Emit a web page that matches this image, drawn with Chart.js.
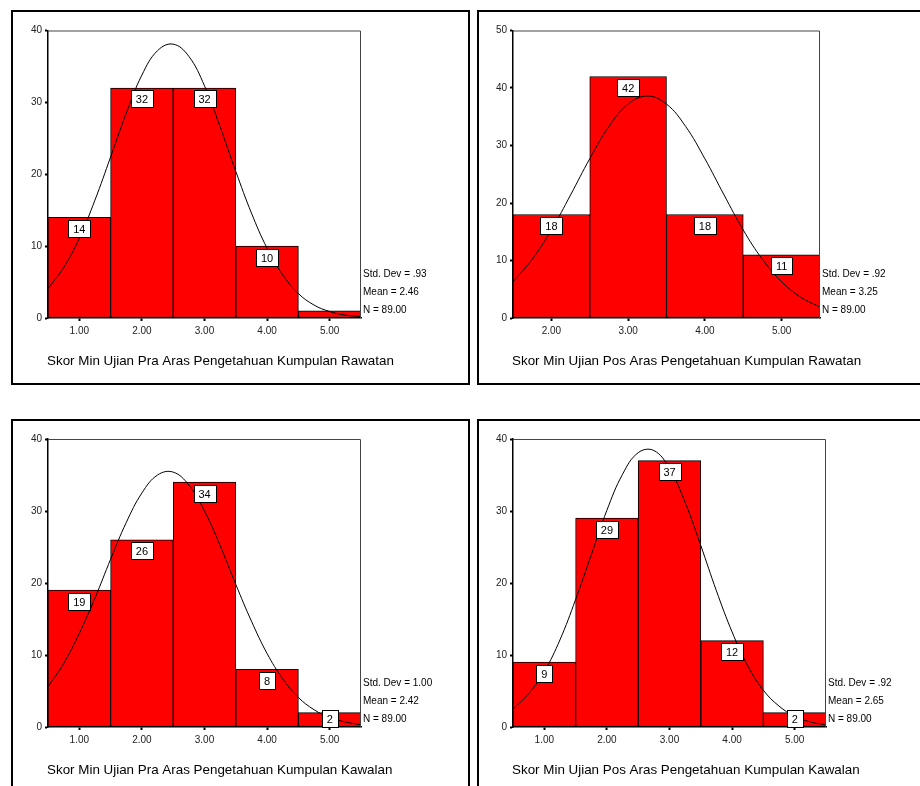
<!DOCTYPE html>
<html>
<head>
<meta charset="utf-8">
<script src="https://cdn.jsdelivr.net/npm/chart.js@4.4.0/dist/chart.umd.min.js"></script>
<style>
html, body { margin: 0; padding: 0; background: #fff; width: 920px; height: 786px; overflow: hidden; position: relative; }
.panel { position: absolute; border: 2px solid #000; box-sizing: border-box; pointer-events: none; }
canvas { position: absolute; }
</style>
</head>
<body>
<canvas id="c1" width="459" height="375" style="left:11px;top:10px"></canvas>
<canvas id="c2" width="459" height="375" style="left:477px;top:10px"></canvas>
<canvas id="c3" width="459" height="368" style="left:11px;top:418px"></canvas>
<canvas id="c4" width="459" height="368" style="left:477px;top:418px"></canvas>
<div class="panel" style="left:11px;top:10px;width:459px;height:375px"></div>
<div class="panel" style="left:477px;top:10px;width:459px;height:375px"></div>
<div class="panel" style="left:11px;top:419px;width:459px;height:400px"></div>
<div class="panel" style="left:477px;top:419px;width:459px;height:400px"></div>
<script>
// histogram bins (score) and frequencies
const bins1 = [1, 2, 3, 4, 5];
const counts1 = [14, 32, 32, 10, 1];
const bins2 = [2, 3, 4, 5];
const counts2 = [18, 42, 18, 11];
const bins3 = [1, 2, 3, 4, 5];
const counts3 = [19, 26, 34, 8, 2];
const bins4 = [1, 2, 3, 4, 5];
const counts4 = [9, 29, 37, 12, 2];

// x tick labels
const xTicks1 = [1, 2, 3, 4, 5];
const xTicks2 = [2, 3, 4, 5];

// normal curve (x positions and heights)
const curveX = [0.5, 0.75, 1, 1.25, 1.5, 1.75, 2, 2.25, 2.5, 2.75, 3, 3.25, 3.5, 3.75, 4, 4.25, 4.5, 4.75, 5, 5.25, 5.5];
const curveX2 = [1.5, 1.75, 2, 2.25, 2.5, 2.75, 3, 3.25, 3.5, 3.75, 4, 4.25, 4.5, 4.75, 5, 5.25, 5.5];
const curve1 = [4.1, 7.0, 11.1, 16.4, 22.4, 28.5, 33.8, 37.2, 38.1, 36.4, 32.3, 26.6, 20.4, 14.6, 9.7, 6.0, 3.4, 1.8, 0.9, 0.4, 0.2];
const curve2 = [6.3, 10.2, 15.3, 21.4, 27.7, 33.3, 37.2, 38.6, 37.2, 33.3, 27.7, 21.4, 15.3, 10.2, 6.3, 3.6, 1.9];
const curve3 = [5.6, 8.8, 13.0, 17.9, 23.3, 28.4, 32.5, 35.0, 35.4, 33.6, 30.0, 25.2, 19.8, 14.7, 10.2, 6.7, 4.1, 2.4, 1.3, 0.7, 0.3];
const curve4 = [2.5, 4.6, 7.7, 12.1, 17.7, 23.9, 30.1, 35.1, 38.1, 38.4, 35.9, 31.2, 25.2, 18.9, 13.2, 8.5, 5.1, 2.9, 1.5, 0.7, 0.3];

// summary statistics
const stdDevs = ['.93', '.92', '1.00', '.92'];
const means = ['2.46', '3.25', '2.42', '2.65'];
const ns = ['89.00', '89.00', '89.00', '89.00'];
const titles = [
  'Skor Min Ujian Pra Aras Pengetahuan Kumpulan Rawatan',
  'Skor Min Ujian Pos Aras Pengetahuan Kumpulan Rawatan',
  'Skor Min Ujian Pra Aras Pengetahuan Kumpulan Kawalan',
  'Skor Min Ujian Pos Aras Pengetahuan Kumpulan Kawalan'
];

const FONT = '"Liberation Sans", Arial, sans-serif';

const decor = {
  id: 'decor',
  afterDatasetsDraw(chart, args, opts) {
    const { ctx, chartArea: a } = chart;
    ctx.save();
    // plot frame (top and right)
    ctx.strokeStyle = '#444';
    ctx.lineWidth = 1;
    ctx.beginPath();
    ctx.moveTo(a.left, a.top + 0.5);
    ctx.lineTo(a.right - 0.5, a.top + 0.5);
    ctx.lineTo(a.right - 0.5, a.bottom);
    ctx.stroke();

    // value boxes on bars
    const meta = chart.getDatasetMeta(1);
    const vals = chart.data.datasets[1].data;
    ctx.font = '11px ' + FONT;
    ctx.textAlign = 'center';
    ctx.textBaseline = 'middle';
    meta.data.forEach((bar, i) => {
      const v = vals[i].y;
      if (v < 2) return;
      const txt = String(v);
      const w = Math.round(ctx.measureText(txt).width) + 10;
      const h = 17;
      const top = Math.min(bar.y + 2.5, a.bottom - h);
      const left = Math.round(bar.x - w / 2) + 0.5;
      ctx.fillStyle = '#fff';
      ctx.fillRect(left, Math.round(top) + 0.5, w, h);
      ctx.strokeStyle = '#000';
      ctx.strokeRect(left, Math.round(top) + 0.5, w, h);
      ctx.fillStyle = '#000';
      ctx.fillText(txt, bar.x, Math.round(top) + h / 2 + 1);
    });

    // stats
    ctx.font = '10px ' + FONT;
    ctx.textAlign = 'left';
    ctx.fillStyle = '#000';
    ctx.fillText('Std. Dev = ' + opts.sd, a.right + 2, a.bottom - 43.5);
    ctx.fillText('Mean = ' + opts.mean, a.right + 2, a.bottom - 25.8);
    ctx.fillText('N = ' + opts.n, a.right + 2, a.bottom - 8);

    // axis title
    ctx.font = '13.4px ' + FONT;
    ctx.fillText(opts.title, a.left - 1, a.bottom + 43);
    ctx.restore();
  }
};

function makeHist(id, idx, bins, counts, xs, curve, xMin, yMax, xTicks, area) {
  const canvas = document.getElementById(id);
  const yW = 25, xH = 22;
  return new Chart(canvas, {
    data: {
      datasets: [
        {
          type: 'line',
          data: xs.map((x, i) => ({ x: x, y: curve[i] })),
          borderColor: '#000',
          borderWidth: 1,
          pointRadius: 0,
          tension: 0.4,
          fill: false,
          order: 0
        },
        {
          type: 'bar',
          data: bins.map((b, i) => ({ x: b, y: counts[i] })),
          backgroundColor: '#ff0000',
          borderColor: '#000',
          borderWidth: 1,
          borderSkipped: false,
          barPercentage: 1,
          categoryPercentage: 1,
          grouped: false,
          order: 1
        }
      ]
    },
    options: {
      responsive: false,
      animation: false,
      devicePixelRatio: 1,
      layout: {
        padding: {
          left: area.left - yW,
          top: area.top,
          right: canvas.width - area.right,
          bottom: canvas.height - area.bottom - xH
        }
      },
      scales: {
        x: {
          type: 'linear',
          min: xMin,
          max: 5.5,
          offset: false,
          afterBuildTicks: s => { s.ticks = xTicks.map(v => ({ value: v })); },
          afterFit: s => { s.height = xH; },
          ticks: {
            callback: v => Number(v).toFixed(2),
            font: { family: FONT, size: 10 },
            color: '#222',
            padding: 4,
            maxRotation: 0,
            autoSkip: false
          },
          grid: { offset: false, drawOnChartArea: false, tickLength: 3, tickWidth: 2, color: '#000' },
          border: { color: '#000', width: 1.5 }
        },
        y: {
          min: 0,
          max: yMax,
          afterFit: s => { s.width = yW; },
          ticks: {
            stepSize: 10,
            font: { family: FONT, size: 10 },
            color: '#222',
            padding: 3
          },
          grid: { drawOnChartArea: false, tickLength: 3, tickWidth: 2, color: '#000' },
          border: { color: '#000', width: 1.5 }
        }
      },
      plugins: {
        legend: { display: false },
        tooltip: { enabled: false },
        decor: { sd: stdDevs[idx], mean: means[idx], n: ns[idx], title: titles[idx] }
      }
    },
    plugins: [decor]
  });
}

makeHist('c1', 0, bins1, counts1, curveX, curve1, 0.5, 40, xTicks1, { left: 37, top: 20.5, right: 350, bottom: 308 });
makeHist('c2', 1, bins2, counts2, curveX2, curve2, 1.5, 50, xTicks2, { left: 36, top: 20.5, right: 343, bottom: 308 });
makeHist('c3', 2, bins3, counts3, curveX, curve3, 0.5, 40, xTicks1, { left: 37, top: 21, right: 350, bottom: 309 });
makeHist('c4', 3, bins4, counts4, curveX, curve4, 0.5, 40, xTicks1, { left: 36, top: 21, right: 349, bottom: 309 });
</script>
</body>
</html>
